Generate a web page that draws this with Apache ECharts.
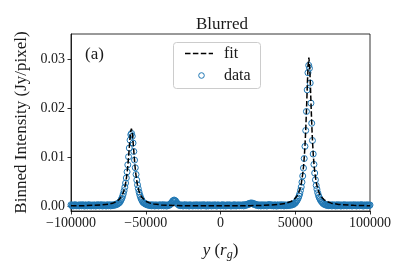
<!DOCTYPE html>
<html>
<head>
<meta charset="utf-8">
<script src="https://cdn.jsdelivr.net/npm/echarts@6/dist/echarts.min.js"></script>
<style>html,body{margin:0;padding:0;background:#fff;}#c{width:407px;height:271px;}</style>
</head>
<body>
<div id="c"></div>
<script>
// ---- tick labels ----
const xTicks = [-100000, -50000, 0, 50000, 100000];
const yTicks = [0.00, 0.01, 0.02, 0.03];
const legendNames = ['fit', 'data'];

// ---- fit curve (dashed) ----
const fitX = [-100000, -89600, -79600, -74600, -71600, -69600, -67600, -66600, -65600, -64600,
  -63600, -63100, -62600, -62100, -61600, -61100, -60600, -60100, -59600, -59100,
  -58600, -58100, -57600, -57100, -56600, -56100, -55600, -54600, -53600, -52600,
  -51600, -49600, -47600, -44600, -39600, -29600, -19600, -9600, 0, 10000,
  20000, 29100, 39100, 44100, 47100, 49100, 51100, 52100, 53100, 54100,
  55100, 55600, 56100, 56600, 57100, 57600, 58100, 58600, 59100, 59600,
  60100, 60600, 61100, 61600, 62100, 62600, 63100, 64100, 65100, 66100,
  67100, 69100, 71100, 74100, 79100, 89100, 100000];
const fitY = [0.00015, 0.0002, 0.00033, 0.00052, 0.00075, 0.00102, 0.0015, 0.00188, 0.00243, 0.00325,
  0.00453, 0.00543, 0.00657, 0.00799, 0.00972, 0.01171, 0.01371, 0.01528, 0.01589, 0.01528,
  0.01371, 0.01171, 0.00972, 0.00799, 0.00657, 0.00543, 0.00453, 0.00325, 0.00243, 0.00188,
  0.0015, 0.00103, 0.00076, 0.00053, 0.00034, 0.00021, 0.00016, 0.00015, 0.00015, 0.00016,
  0.00019, 0.00025, 0.00044, 0.0007, 0.00103, 0.00143, 0.00213, 0.0027, 0.00354, 0.00482,
  0.00688, 0.00839, 0.01037, 0.01297, 0.01633, 0.02047, 0.025, 0.02884, 0.03039, 0.02884,
  0.025, 0.02047, 0.01633, 0.01297, 0.01037, 0.00839, 0.00688, 0.00482, 0.00354, 0.0027,
  0.00213, 0.00143, 0.00103, 0.0007, 0.00044, 0.00025, 0.00017];

const wingLX = [-100000, -99500, -99000, -98500, -98000, -97500, -97000, -96500, -96000, -95500,
  -95000, -94500, -94000, -93500, -93000, -92500, -92000, -91500, -91000, -90500,
  -90000, -89500, -89000, -88500, -88000, -87500, -87000, -86500, -86000, -85500,
  -85000, -84500, -84000, -83500, -83000, -82500, -82000, -81500, -81000, -80500,
  -80000, -79500, -79000, -78500, -78000, -77500, -77000, -76500, -76000, -75500,
  -75000, -74500, -74000, -73500, -73000, -72500, -72000, -71500, -71000, -70500,
  -70000, -69500, -69000, -68500];
const wingLY = [0.00037, 0.00017, 0.00029, 0.00012, 0.00034, 0.00022, 0.00039, 0.00015, 0.00026, 0.00019,
  0.00031, 0.00013, 0.00036, 0.00024, 0.00016, 0.00038, 0.0002, 0.00033, 0.00011, 0.00028,
  0.00035, 0.00021, 0.00014, 0.0003, 0.00039, 0.00018, 0.00027, 0.00012, 0.00033, 0.00023,
  0.00016, 0.00036, 0.00025, 0.00011, 0.00032, 0.0002, 0.00038, 0.00027, 0.00014, 0.00034,
  0.00022, 0.00039, 0.00013, 0.00029, 0.00018, 0.00035, 0.00024, 0.00012, 0.00031, 0.00037,
  0.00017, 0.00028, 0.00036, 0.00014, 0.00033, 0.00021, 0.00033, 0.00024, 0.0004, 0.00031,
  0.00047, 0.0004, 0.0006, 0.00058];
const peakLX = [-68000, -67500, -67000, -66500, -66000, -65500, -65000, -64500, -64000, -63500,
  -63000, -62500, -62000, -61500, -61000, -60500, -60000, -59500, -59000, -58500,
  -58000, -57500, -57000, -56500, -56000, -55500, -55000, -54500, -54000, -53500,
  -53000, -52500, -52000, -51500, -51000];
const peakLY = [0.00072, 0.00084, 0.00106, 0.00136, 0.00168, 0.0021, 0.00262, 0.00324, 0.00396, 0.0048,
  0.00584, 0.00708, 0.00852, 0.01016, 0.01194, 0.01356, 0.01468, 0.01492, 0.01434, 0.01296,
  0.01124, 0.00948, 0.00792, 0.00656, 0.0054, 0.00444, 0.00366, 0.00298, 0.0024, 0.00192,
  0.00154, 0.00124, 0.00096, 0.00078, 0.00068];
const midAX = [-50500, -50000, -49500, -49000, -48500, -48000, -47500, -47000, -46500, -46000,
  -45500, -45000, -44500, -44000, -43500, -43000, -42500, -42000, -41500, -41000,
  -40500, -40000, -39500, -39000, -38500, -38000, -37500, -37000, -36500, -36000,
  -35500];
const midAY = [0.00064, 0.00047, 0.00052, 0.00034, 0.00041, 0.00025, 0.00035, 0.0002, 0.00033, 0.00015,
  0.00038, 0.00022, 0.00029, 0.00012, 0.00036, 0.00019, 0.00031, 0.00024, 0.00013, 0.00037,
  0.00021, 0.00034, 0.00016, 0.00028, 0.00039, 0.00014, 0.0003, 0.00022, 0.00035, 0.00011,
  0.00027];
const bumpLX = [-35000, -34500, -34000, -33500, -33000, -32500, -32000, -31500, -31000, -30500,
  -30000, -29500, -29000, -28500, -28000, -27500, -27000];
const bumpLY = [0.00032, 0.00022, 0.0004, 0.00044, 0.00072, 0.00082, 0.00114, 0.0012, 0.00134, 0.0012,
  0.00114, 0.00084, 0.0007, 0.00044, 0.00039, 0.00022, 0.00031];
const midBX = [-26500, -26000, -25500, -25000, -24500, -24000, -23500, -23000, -22500, -22000,
  -21500, -21000, -20500, -20000, -19500, -19000, -18500, -18000, -17500, -17000,
  -16500, -16000, -15500, -15000, -14500, -14000, -13500, -13000, -12500, -12000,
  -11500, -11000, -10500, -10000, -9500, -9000, -8500, -8000, -7500, -7000,
  -6500, -6000, -5500, -5000, -4500, -4000, -3500, -3000, -2500, -2000,
  -1500, -1000, -500, 0, 500, 1000, 1500, 2000, 2500, 3000,
  3500, 4000, 4500, 5000, 5500, 6000, 6500, 7000, 7500, 8000,
  8500, 9000, 9500, 10000, 10500, 11000, 11500, 12000, 12500, 13000,
  13500, 14000, 14500, 15000, 15500];
const midBY = [0.00018, 0.00036, 0.00024, 0.00012, 0.00033, 0.00027, 0.00039, 0.00015, 0.0003, 0.0002,
  0.00034, 0.00011, 0.00028, 0.00037, 0.00019, 0.00025, 0.00013, 0.00035, 0.00022, 0.00031,
  0.00016, 0.00038, 0.00026, 0.00014, 0.00032, 0.00021, 0.00036, 0.00012, 0.00029, 0.00024,
  0.00039, 0.00017, 0.00033, 0.00023, 0.0001, 0.00035, 0.00027, 0.00015, 0.00037, 0.0002,
  0.0003, 0.00013, 0.00034, 0.00025, 0.00018, 0.00038, 0.00022, 0.00031, 0.00011, 0.00028,
  0.00036, 0.00019, 0.00026, 0.00014, 0.00033, 0.00021, 0.00039, 0.00016, 0.0003, 0.00024,
  0.00012, 0.00035, 0.00027, 0.00018, 0.00037, 0.00023, 0.00032, 0.00011, 0.00029, 0.0002,
  0.00034, 0.00015, 0.00038, 0.00025, 0.00013, 0.00031, 0.00022, 0.00036, 0.00017, 0.00028,
  0.00033, 0.00019, 0.00026, 0.00037, 0.00014];
const bumpRX = [16000, 16500, 17000, 17500, 18000, 18500, 19000, 19500, 20000, 20500,
  21000, 21500, 22000, 22500, 23000, 23500, 24000, 24500, 25000];
const bumpRY = [0.00036, 0.00021, 0.0004, 0.00029, 0.00049, 0.0004, 0.00062, 0.00052, 0.00072, 0.00061,
  0.00074, 0.00056, 0.00065, 0.00044, 0.00052, 0.00032, 0.00042, 0.00024, 0.00035];
const midCX = [25500, 26000, 26500, 27000, 27500, 28000, 28500, 29000, 29500, 30000,
  30500, 31000, 31500, 32000, 32500, 33000, 33500, 34000, 34500, 35000,
  35500, 36000, 36500, 37000, 37500, 38000, 38500, 39000, 39500, 40000,
  40500, 41000, 41500, 42000, 42500, 43000, 43500, 44000, 44500, 45000,
  45500, 46000, 46500, 47000, 47500, 48000, 48500, 49000, 49500, 50000];
const midCY = [0.00017, 0.00034, 0.00026, 0.00013, 0.00038, 0.00022, 0.00031, 0.00015, 0.00036, 0.00024,
  0.0003, 0.00012, 0.00035, 0.00027, 0.00041, 0.00025, 0.00039, 0.00019, 0.00033, 0.00021,
  0.00014, 0.00037, 0.00023, 0.00032, 0.00011, 0.00029, 0.00036, 0.00018, 0.00027, 0.00034,
  0.00016, 0.00038, 0.00022, 0.00031, 0.00013, 0.00035, 0.00025, 0.00019, 0.00033, 0.00021,
  0.00035, 0.00024, 0.00038, 0.00027, 0.00043, 0.00036, 0.00052, 0.00047, 0.0007, 0.00072];
const peakRX = [50500, 51000, 51500, 52000, 52500, 53000, 53500, 54000, 54500, 55000,
  55500, 56000, 56500, 57000, 57500, 58000, 58500, 59000, 59500, 60000,
  60500, 61000, 61500, 62000, 62500, 63000, 63500, 64000, 64500, 65000,
  65500, 66000, 66500, 67000, 67500];
const peakRY = [0.00096, 0.00116, 0.00144, 0.00174, 0.00214, 0.00262, 0.00328, 0.004, 0.00498, 0.00624,
  0.00786, 0.0098, 0.01228, 0.01552, 0.0194, 0.0238, 0.0273, 0.0288, 0.0282, 0.0252,
  0.0211, 0.017, 0.01348, 0.01072, 0.0086, 0.00684, 0.00546, 0.00432, 0.00354, 0.00284,
  0.0023, 0.00188, 0.00156, 0.00126, 0.00104];
const wingRX = [68000, 68500, 69000, 69500, 70000, 70500, 71000, 71500, 72000, 72500,
  73000, 73500, 74000, 74500, 75000, 75500, 76000, 76500, 77000, 77500,
  78000, 78500, 79000, 79500, 80000, 80500, 81000, 81500, 82000, 82500,
  83000, 83500, 84000, 84500, 85000, 85500, 86000, 86500, 87000, 87500,
  88000, 88500, 89000, 89500, 90000, 90500, 91000, 91500, 92000, 92500,
  93000, 93500, 94000, 94500, 95000, 95500, 96000, 96500, 97000, 97500,
  98000, 98500, 99000, 99500, 100000];
const wingRY = [0.0009, 0.00064, 0.00066, 0.00043, 0.00048, 0.0003, 0.0004, 0.00022, 0.00035,
  0.00018, 0.00031, 0.00024, 0.00037, 0.00013, 0.00029, 0.00035, 0.0002, 0.00033, 0.00012,
  0.00027, 0.00038, 0.00016, 0.00032, 0.00023, 0.00036, 0.00011, 0.0003, 0.00021, 0.00034,
  0.00015, 0.00039, 0.00025, 0.00028, 0.00014, 0.00035, 0.00022, 0.00031, 0.00017, 0.00037,
  0.00026, 0.00012, 0.00033, 0.00024, 0.00038, 0.00019, 0.0003, 0.00013, 0.00036, 0.00023,
  0.00032, 0.00016, 0.00029, 0.00039, 0.0002, 0.00034, 0.00011, 0.00027, 0.00035, 0.00022,
  0.00031, 0.00015, 0.00037, 0.00025, 0.00018, 0.00033];

const dataX = [].concat(wingLX, peakLX, midAX, bumpLX, midBX, bumpRX, midCX, peakRX, wingRX);
const dataY = [].concat(wingLY, peakLY, midAY, bumpLY, midBY, bumpRY, midCY, peakRY, wingRY);
const n = Math.min(dataX.length, dataY.length);
const fitPairs = fitX.map((x, i) => [x, fitY[i]]);
const dataPairs = dataX.slice(0, n).map((x, i) => [x, dataY[i]]);

const FONT = 'Liberation Serif';
const TXT = '#1a1a1a';
const BLUE = '#1f77b4';

const chart = echarts.init(document.getElementById('c'), null, {renderer: 'canvas'});
chart.setOption({
  animation: false,
  backgroundColor: '#fff',
  title: {
    text: 'Blurred', left: 191, top: 11,
    textStyle: {fontFamily: FONT, fontSize: 17, fontWeight: 'normal', color: TXT}
  },
  grid: {left: 71, right: 37, top: 34, bottom: 60, show: true, borderColor: '#000', borderWidth: 0.8, backgroundColor: 'transparent'},
  xAxis: {
    type: 'value', min: -100000, max: 100000, interval: 50000,
    axisLine: {onZero: false, lineStyle: {color: '#000', width: 0.8}},
    axisTick: {inside: false, length: 3.5, lineStyle: {color: '#000', width: 0.8}, customValues: xTicks},
    axisLabel: {customValues: xTicks, fontFamily: FONT, fontSize: 14, color: TXT, margin: 5,
      formatter: v => String(v).replace('-', '\u2212')},
    splitLine: {show: false},
    name: '{i|y} ({i|r}{s|g})', nameLocation: 'middle', nameGap: 29,
    nameTextStyle: {fontFamily: FONT, fontSize: 17, color: TXT,
      rich: {i: {fontFamily: FONT, fontSize: 17, fontStyle: 'italic', color: TXT},
             s: {fontFamily: FONT, fontSize: 12, fontStyle: 'italic', color: TXT, padding: [9, 0, 0, 0]}}}
  },
  yAxis: {
    type: 'value', min: -0.0009, max: 0.0352,
    axisLine: {show: true, onZero: false, lineStyle: {color: '#000', width: 0.8}},
    axisTick: {show: true, inside: false, length: 3.5, lineStyle: {color: '#000', width: 0.8}, customValues: yTicks},
    axisLabel: {customValues: yTicks, fontFamily: FONT, fontSize: 14, color: TXT, margin: 6,
      formatter: v => v.toFixed(2)},
    splitLine: {show: false},
    name: 'Binned Intensity (Jy/pixel)', nameLocation: 'middle', nameGap: 40, nameRotate: 90,
    nameTextStyle: {fontFamily: FONT, fontSize: 17, color: TXT}
  },
  graphic: [
    {type: 'text', left: 85, top: 46, z: 100,
     style: {text: '(a)', fontFamily: FONT, fontSize: 17, fill: TXT}},
    {type: 'rect', z: 100, shape: {x: 173.5, y: 42.5, width: 87, height: 46, r: 3},
     style: {fill: 'rgba(255,255,255,0.85)', stroke: '#cccccc', lineWidth: 1}},
    {type: 'line', z: 101, shape: {x1: 185, y1: 53.5, x2: 213, y2: 53.5},
     style: {stroke: '#000', lineWidth: 1.5, lineDash: [5.5, 2.4]}},
    {type: 'circle', z: 101, shape: {cx: 201.5, cy: 75.5, r: 2.8},
     style: {fill: 'none', stroke: BLUE, lineWidth: 1}},
    {type: 'text', z: 101, x: 224, y: 53.5,
     style: {text: legendNames[0], fontFamily: FONT, fontSize: 16, fill: TXT, verticalAlign: 'middle'}},
    {type: 'text', z: 101, x: 224, y: 75.5,
     style: {text: legendNames[1], fontFamily: FONT, fontSize: 16, fill: TXT, verticalAlign: 'middle'}}
  ].concat(dataX.length !== dataY.length ? [{type: 'text', left: 5, top: 255, z: 200,
     style: {text: 'len ' + dataX.length + ' vs ' + dataY.length, fill: 'red', fontSize: 10}}] : []),
  series: [{
    name: legendNames[1], type: 'scatter', data: dataPairs, symbol: 'circle', symbolSize: 6,
    itemStyle: {color: 'rgba(0,0,0,0)', borderColor: BLUE, borderWidth: 1, opacity: 1},
    z: 2
  }, {
    name: legendNames[0], type: 'line', data: fitPairs, showSymbol: false, symbol: 'none',
    lineStyle: {color: '#000', width: 1.5, type: [5.5, 2.4]},
    itemStyle: {color: '#000'}, z: 4
  }]
});
</script>
</body>
</html>
